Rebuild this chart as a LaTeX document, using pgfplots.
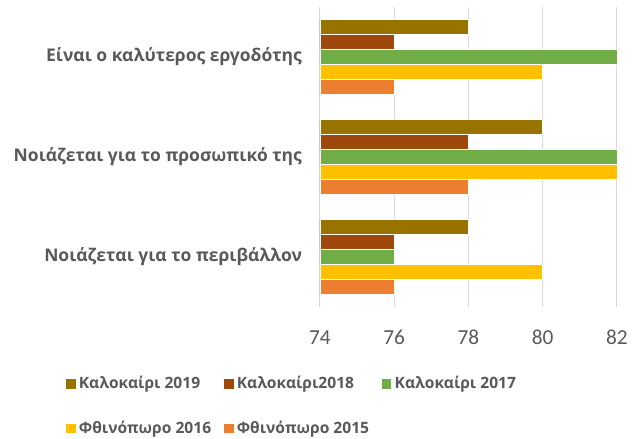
\documentclass[border=0pt]{standalone}
\usepackage{fontspec}
\setmainfont{Carlito}
\newfontfamily\labelfont{Open Sans}[BoldFont={Open Sans Bold}]
\usepackage{pgfplots}
\pgfplotsset{compat=1.18}

\definecolor{cA}{HTML}{997300}
\definecolor{cB}{HTML}{9E480E}
\definecolor{cC}{HTML}{70AD47}
\definecolor{cD}{HTML}{FFC000}
\definecolor{cE}{HTML}{ED7D31}
\definecolor{gridgray}{HTML}{D9D9D9}
\definecolor{txtgray}{HTML}{595959}

\begin{document}
\begin{tikzpicture}
\useasboundingbox (-240pt,-99pt) rectangle (243pt,230.25pt);
\begin{axis}[
    at={(0,0)}, anchor=south west,
    scale only axis,
    width=222.75pt, height=225pt,
    xmin=74, xmax=82, ymin=-0.5, ymax=2.5,
    xtick={74,76,78,80,82},
    ytick={0,1,2},
    yticklabels={Νοιάζεται για το περιβάλλον, Νοιάζεται για το προσωπικό της, Είναι ο καλύτερος εργοδότης},
    xmajorgrids,
    grid style={draw=gridgray, line width=0.75pt},
    axis line style={draw=none},
    major tick style={draw=none},
    tick label style={text=txtgray},
    xticklabel style={font=\fontsize{16}{19}\selectfont, yshift=-14pt},
    yticklabel style={font=\labelfont\bfseries\fontsize{13.1}{16}\selectfont, xshift=-10pt},
    /pgf/number format/assume math mode=true,
    legend columns=3,
    legend cell align=left,
    legend image code/.code={\fill[#1] (0pt,-3.9pt) rectangle (7.8pt,3.9pt);},
    legend style={at={(-0.8586,-0.222)}, anchor=north west, draw=none, fill=none,
        inner sep=0pt, font=\labelfont\bfseries\fontsize{11.7}{14}\selectfont, text=txtgray,
        /tikz/every even column/.append style={column sep=7pt},
        /tikz/every odd column/.append style={column sep=0pt},
        row sep=18.5pt},
]
% Καλοκαίρι 2019
\addplot[xbar, bar width=0.15, bar shift=0.3, fill=cA, draw=white, line width=0.4pt]
    coordinates {(78,0) (80,1) (78,2)};
\addlegendentry{Καλοκαίρι 2019}
% Καλοκαίρι 2018
\addplot[xbar, bar width=0.15, bar shift=0.15, fill=cB, draw=white, line width=0.4pt]
    coordinates {(76,0) (78,1) (76,2)};
\addlegendentry{Καλοκαίρι2018}
% Καλοκαίρι 2017
\addplot[xbar, bar width=0.15, bar shift=0, fill=cC, draw=white, line width=0.4pt]
    coordinates {(76,0) (82,1) (82,2)};
\addlegendentry{Καλοκαίρι 2017}
% Φθινόπωρο 2016
\addplot[xbar, bar width=0.15, bar shift=-0.15, fill=cD, draw=white, line width=0.4pt]
    coordinates {(80,0) (82,1) (80,2)};
\addlegendentry{Φθινόπωρο 2016}
% Φθινόπωρο 2015
\addplot[xbar, bar width=0.15, bar shift=-0.3, fill=cE, draw=white, line width=0.4pt]
    coordinates {(76,0) (78,1) (76,2)};
\addlegendentry{Φθινόπωρο 2015}
\end{axis}
\end{tikzpicture}
\end{document}
